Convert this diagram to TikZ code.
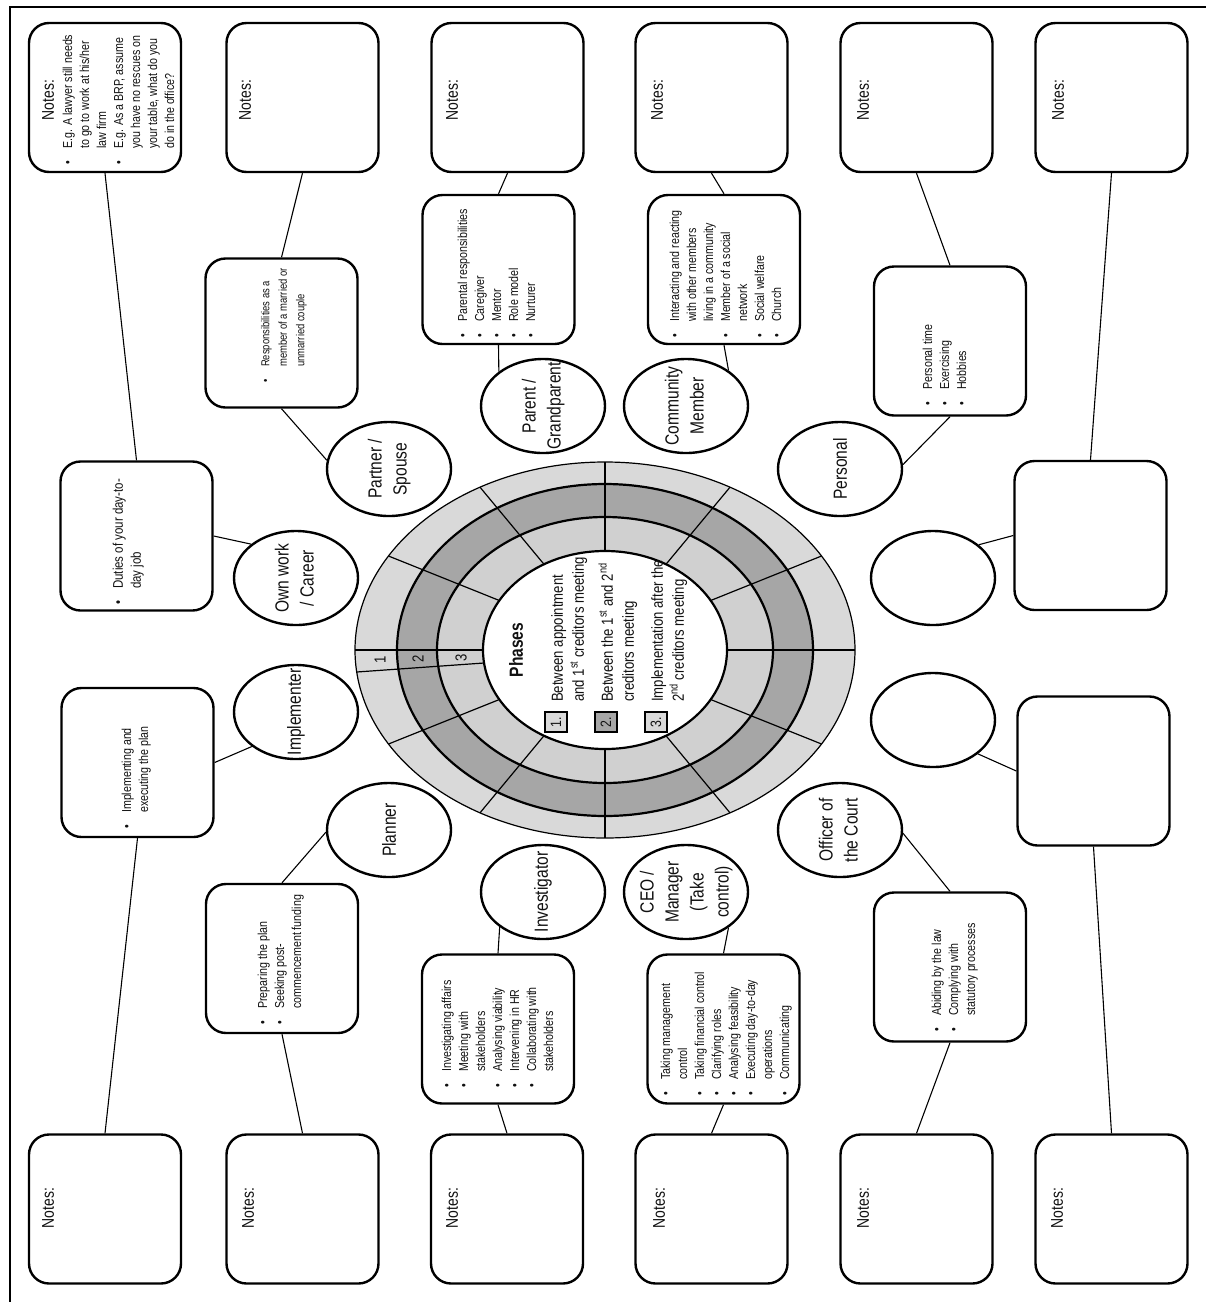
\documentclass[tikz,border=0pt]{standalone}
\usepackage{fontspec}
\setmainfont{Liberation Sans}[FakeStretch=0.82]
\usepackage{graphicx}
\usetikzlibrary{shapes.geometric,calc}
\definecolor{bandA}{HTML}{D9D9D9}
\definecolor{bandB}{HTML}{A6A6A6}
\definecolor{bandC}{HTML}{D0D0D0}
\definecolor{ink}{HTML}{111111}
\newcommand\rot[1]{\rotatebox{90}{#1}}
\newcommand\bl{\makebox[16pt][l]{\textbullet}}
\newcommand\ii{\hspace*{16pt}}
\begin{document}
\begin{tikzpicture}[x=1pt,y=-1pt,
  notebox/.style={draw, line width=2.4pt, rounded corners=20pt, minimum width=152pt, minimum height=149pt, inner sep=0pt},
  roleell/.style={draw, ellipse, line width=2.4pt, minimum width=124pt, minimum height=94pt, inner sep=0pt},
  roletxt/.style={inner sep=0pt, text=ink, font=\fontsize{19}{25}\selectfont},
  btxt/.style={inner sep=0pt, anchor=south west, text=ink, font=\fontsize{13}{17}\selectfont},
  notestxt/.style={inner sep=0pt, text=ink, font=\fontsize{17}{20}\selectfont},
  phtxt/.style={inner sep=0pt, anchor=south west, text=ink, font=\fontsize{16}{21}\selectfont},
  legbox/.style={draw, line width=2.4pt, minimum width=22pt, minimum height=20pt, inner sep=0pt, text=ink, font=\fontsize{15}{15}\selectfont},
  digit/.style={inner sep=0pt, text=ink, font=\fontsize{16}{16}\selectfont},
  conn/.style={line width=1.1pt}]
\useasboundingbox (0,0) rectangle (1206,1302);
% frame
\draw[line width=1.5pt] (10,1302) -- (10,7) -- (1206,7);

% ---------- central disc ----------
\coordinate (c) at (605,650);
\fill[bandA] (c) ellipse [x radius=250pt, y radius=188pt];
\fill[bandB] (c) ellipse [x radius=208pt, y radius=166pt];
\fill[bandC] (c) ellipse [x radius=168pt, y radius=133pt];
\fill[white] (c) ellipse [x radius=122pt, y radius=99pt];
\foreach \t in {0,30,...,330}
  \draw[line width=1.2pt] ({605+122*cos(\t)},{650-99*sin(\t)}) -- ({605+250*cos(\t)},{650-188*sin(\t)});
\draw[line width=1.2pt] (356.7,672) -- (484,663);
\draw[line width=1.2pt] (c) ellipse [x radius=250pt, y radius=188pt];
\draw[line width=2.2pt] (c) ellipse [x radius=208pt, y radius=166pt];
\draw[line width=2.2pt] (c) ellipse [x radius=168pt, y radius=133pt];
\draw[line width=2.2pt] (c) ellipse [x radius=122pt, y radius=99pt];
\node[digit] (d1) at (380,660) {\rot{1}};
\node[digit] (d2) at (418,659) {\rot{2}};
\node[digit] (d3) at (461,658) {\rot{3}};

\node[inner sep=0pt, text=ink, font=\bfseries\fontsize{19}{22}\selectfont] (phases) at (516,650) {\rot{Phases}};
\node[legbox, fill=bandA] (lg1) at (556,722) {\rot{1.}};
\node[legbox, fill=bandB] (lg2) at (606,722) {\rot{2.}};
\node[legbox, fill=bandA] (lg3) at (656,722) {\rot{3.}};
\node[phtxt] (ph1) at (548,702) {\rot{\begin{tabular}{@{}l@{}}Between appointment\\and 1\textsuperscript{st} creditors meeting\end{tabular}}};
\node[phtxt] (ph2) at (598,702) {\rot{\begin{tabular}{@{}l@{}}Between the 1\textsuperscript{st} and 2\textsuperscript{nd}\\creditors meeting\end{tabular}}};
\node[phtxt] (ph3) at (648,702) {\rot{\begin{tabular}{@{}l@{}}Implementation after the\\2\textsuperscript{nd} creditors meeting\end{tabular}}};

% ---------- notes boxes ----------
\node[notebox] (nt1) at (105,97.5) {};
\node[notebox] (nt2) at (302.5,97.5) {};
\node[notebox] (nt3) at (507.5,97.5) {};
\node[notebox] (nt4) at (711.5,97.5) {};
\node[notebox] (nt5) at (916.5,97.5) {};
\node[notebox] (nt6) at (1111.5,97.5) {};
\node[notebox] (nb1) at (105,1209) {};
\node[notebox] (nb2) at (302.5,1209) {};
\node[notebox] (nb3) at (507,1209) {};
\node[notebox] (nb4) at (711.5,1209) {};
\node[notebox] (nb5) at (916.5,1209) {};
\node[notebox] (nb6) at (1111.5,1209) {};
\node[notestxt] (nt1l) at (48,100) {\rot{Notes:}};
\node[notestxt] (nt2l) at (245,100) {\rot{Notes:}};
\node[notestxt] (nt3l) at (452,100) {\rot{Notes:}};
\node[notestxt] (nt4l) at (657,100) {\rot{Notes:}};
\node[notestxt] (nt5l) at (863,100) {\rot{Notes:}};
\node[notestxt] (nt6l) at (1058,100) {\rot{Notes:}};
\node[notestxt] (nb1l) at (48,1208) {\rot{Notes:}};
\node[notestxt] (nb2l) at (248,1208) {\rot{Notes:}};
\node[notestxt] (nb3l) at (452,1208) {\rot{Notes:}};
\node[notestxt] (nb4l) at (659,1208) {\rot{Notes:}};
\node[notestxt] (nb5l) at (863,1208) {\rot{Notes:}};
\node[notestxt] (nb6l) at (1057,1208) {\rot{Notes:}};
\node[btxt] (nt1t) at (60,165) {\rot{\begin{tabular}{@{}l@{}}\bl E.g. A lawyer still needs\\\ii to go to work at his/her\\\ii law firm\\\bl E.g. As a BRP, assume\\\ii you have no rescues on\\\ii your table, what do you\\\ii do in the office?\end{tabular}}};

% ---------- description boxes ----------
\node[notebox] (partnerbox) at (281.5,333) {};
\node[notebox] (parentbox) at (498.5,269.5) {};
\node[notebox] (commbox) at (724,269.5) {};
\node[notebox] (persbox) at (950,341) {};
\node[notebox] (ownbox) at (136.5,536) {};
\node[notebox] (implbox) at (137.5,762.5) {};
\node[notebox] (rbox1) at (1090.5,535.5) {};
\node[notebox] (rbox2) at (1093.5,771) {};
\node[notebox] (planbox) at (282,958.5) {};
\node[notebox] (invbox) at (498,1029) {};
\node[notebox] (ceobox) at (723.5,1029) {};
\node[notebox] (offbox) at (950,967) {};

\node[btxt, font=\fontsize{11.5}{17.5}\selectfont] (partnert) at (257,383) {\rot{\begin{tabular}{@{}l@{}}\bl Responsibilities as a\\\ii member of a married or\\\ii unmarried couple\end{tabular}}};
\node[btxt] (parentt) at (455,338) {\rot{\begin{tabular}{@{}l@{}}\bl Parental responsibilities\\\bl Caregiver\\\bl Mentor\\\bl Role model\\\bl Nurturer\end{tabular}}};
\node[btxt] (commt) at (667,338) {\rot{\begin{tabular}{@{}l@{}}\bl Interacting and reacting\\\ii with other members\\\ii living in a community\\\bl Member of a social\\\ii network\\\bl Social welfare\\\bl Church\end{tabular}}};
\node[btxt] (perst) at (920,406) {\rot{\begin{tabular}{@{}l@{}}\bl Personal time\\\bl Exercising\\\bl Hobbies\end{tabular}}};
\node[btxt, font=\fontsize{14}{18}\selectfont] (ownt) at (110,605) {\rot{\begin{tabular}{@{}l@{}}\bl Duties of your day-to-\\\ii day job\end{tabular}}};
\node[btxt] (implt) at (119,829) {\rot{\begin{tabular}{@{}l@{}}\bl Implementing and\\\ii executing the plan\end{tabular}}};
\node[btxt] (plant) at (255,1025) {\rot{\begin{tabular}{@{}l@{}}\bl Preparing the plan\\\bl Seeking post-\\\ii commencement funding\end{tabular}}};
\node[btxt] (invt) at (439,1088) {\rot{\begin{tabular}{@{}l@{}}\bl Investigating affairs\\\bl Meeting with\\\ii stakeholders\\\bl Analysing viability\\\bl Intervening in HR\\\bl Collaborating with\\\ii stakeholders\end{tabular}}};
\node[btxt] (ceot) at (658,1096) {\rot{\begin{tabular}{@{}l@{}}\bl Taking management\\\ii control\\\bl Taking financial control\\\bl Clarifying roles\\\bl Analysing feasibility\\\bl Executing day-to-day\\\ii operations\\\bl Communicating\end{tabular}}};
\node[btxt] (offt) at (929,1032) {\rot{\begin{tabular}{@{}l@{}}\bl Abiding by the law\\\bl Complying with\\\ii statutory processes\end{tabular}}};

% ---------- role ellipses ----------
\node[roleell] (partner) at (389,469) {};
\node[roleell] (parent) at (543,406) {};
\node[roleell] (community) at (686,406) {};
\node[roleell] (personal) at (840,469) {};
\node[roleell] (own) at (296,578) {};
\node[roleell] (impl) at (296,712) {};
\node[roleell] (right1) at (933,578) {};
\node[roleell] (right2) at (933,720) {};
\node[roleell] (planner) at (389,830) {};
\node[roleell] (investigator) at (543,892) {};
\node[roleell] (ceo) at (686,892) {};
\node[roleell] (officer) at (840,830) {};
\node[roletxt] (partnerl) at (partner) {\rot{\begin{tabular}{@{}c@{}}Partner /\\Spouse\end{tabular}}};
\node[roletxt] (parentl) at (parent) {\rot{\begin{tabular}{@{}c@{}}Parent /\\Grandparent\end{tabular}}};
\node[roletxt] (communityl) at (community) {\rot{\begin{tabular}{@{}c@{}}Community\\Member\end{tabular}}};
\node[roletxt] (personall) at (personal) {\rot{Personal}};
\node[roletxt] (ownl) at (own) {\rot{\begin{tabular}{@{}c@{}}Own work\\/ Career\end{tabular}}};
\node[roletxt] (impll) at (impl) {\rot{Implementer}};
\node[roletxt] (plannerl) at (planner) {\rot{Planner}};
\node[roletxt] (investigatorl) at (investigator) {\rot{Investigator}};
\node[roletxt] (ceol) at (ceo) {\rot{\begin{tabular}{@{}c@{}}CEO /\\Manager\\(Take\\control)\end{tabular}}};
\node[roletxt] (officerl) at (officer) {\rot{\begin{tabular}{@{}c@{}}Officer of\\the Court\end{tabular}}};

% ---------- connectors ----------
\draw[conn] (nt1.south) -- (ownbox.north);
\draw[conn] (ownbox.east) -- (own.143);
\draw[conn] (nt2.south) -- (partnerbox.north);
\draw[conn] (partnerbox.south) -- (partner.172);
\draw[conn] (nt3.south) -- (parentbox.north);
\draw[conn] (parentbox.south) -- (parent.142);
\draw[conn] (nt4.south) -- (commbox.north);
\draw[conn] (commbox.south) -- (community.40);
\draw[conn] (nt5.south) -- (persbox.north);
\draw[conn] (persbox.south) -- (personal.4);
\draw[conn] (nt6.south) -- (rbox1.north);
\draw[conn] (right1.36) -- (rbox1.west);
\draw[conn] (implbox.east) -- (impl.218);
\draw[conn] (implbox.south) -- (nb1.north);
\draw[conn] (planner.182) -- (planbox.north);
\draw[conn] (planbox.south) -- (nb2.north);
\draw[conn] (investigator.219) -- (invbox.north);
\draw[conn] (invbox.south) -- (nb3.north);
\draw[conn] (ceo.320) -- (ceobox.north);
\draw[conn] (ceobox.south) -- (nb4.north);
\draw[conn] (officer.357) -- (offbox.north);
\draw[conn] (offbox.south) -- (nb5.north);
\draw[conn] (right2.323) -- (rbox2.west);
\draw[conn] (rbox2.south) -- (nb6.north);
\end{tikzpicture}
\end{document}
